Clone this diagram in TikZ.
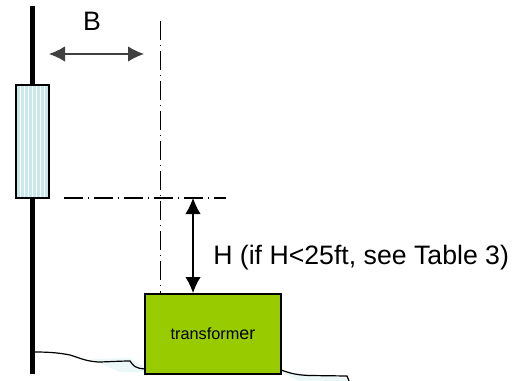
\documentclass[tikz,border=0pt]{standalone}
\usepackage{fontspec}
\setmainfont{Liberation Sans}
\usetikzlibrary{arrows.meta,patterns}
\definecolor{leaf}{HTML}{99CC00}
\definecolor{pale}{HTML}{C8E8EC}
\tikzset{
  x=0.75pt,y=-0.75pt,
  pole/.style={line width=4.3pt,black},
  dimline/.style={line width=0.8pt,{Latex[length=12pt,width=11.5pt]}-{Latex[length=12pt,width=11.5pt]}},
  guide/.style={line width=1.2pt,dash pattern=on 14.5pt off 3.5pt on 0.8pt off 3.7pt},
  ground/.style={line width=0.9pt},
  lab/.style={inner sep=0pt,font=\fontsize{20pt}{22pt}\selectfont},
  unitbox/.style={draw,line width=1.5pt,fill=leaf,font=\fontsize{12.2pt}{14pt}\selectfont,inner sep=0pt},
  meterbox/.style={draw,line width=1.3pt,preaction={fill=pale},pattern=vertical lines,pattern color=white,inner sep=0pt}
}
\begin{document}
\begin{tikzpicture}
\useasboundingbox (0,0) rectangle (520,381);
\fill[white] (0,0) rectangle (520,381);
% ground hatch
\fill[pale!35] (90,359) -- (130,358) -- (145,368) -- (145,372) -- (120,372) -- cycle;
\fill[pale!35] (281,372) -- (345,378) -- (349,381) -- (300,381) -- cycle;
% pole
\coordinate (poleT) at (32.5,6);
\coordinate (poleB) at (32.5,374);
\draw[pole] (poleT) -- (poleB);
% ground
\coordinate (g0) at (35,352);
\coordinate (g1) at (145,369);
\coordinate (g2) at (281,370);
\coordinate (g3) at (349,381);
\draw[ground] (g0) .. controls (50,352) and (60,353) .. (70,355) .. controls (80,358) and (85,361) .. (98,362) .. controls (105,362) and (120,361) .. (130,361) .. controls (134,366) and (134,368) .. (g1);
\draw[ground] (g2) .. controls (290,373) and (295,375) .. (310,375.5) -- (347,376) -- (g3);
% meter box
\node[meterbox,minimum width=24.6pt,minimum height=84.5pt] (meter) at (32.5,141.5) {};
% guides
\coordinate (vT) at (160.5,21);
\coordinate (vB) at (160.5,293);
\coordinate (hL) at (64,198);
\coordinate (hR) at (226,198);
\draw[guide] (vT) -- (vB);
\draw[guide,line width=1.4pt] (hL) -- (hR);
% transformer
\node[unitbox,minimum width=102pt,minimum height=60pt] (tr) at (213,334) {transform{\fontsize{13.4pt}{14pt}\selectfont er}};
% dimensions
\coordinate (bL) at (49,54);
\coordinate (bR) at (144,54);
\draw[dimline,black!75] (bL) -- (bR);
\coordinate (hT) at (193,198);
\draw[dimline] (hT) -- (tr.north -| hT);
% labels
\node[lab] (bl) at (92,21) {B};
\node[lab,anchor=west] (hl) at (213,258) {H (if H<25ft, see Table 3)};
\end{tikzpicture}
\end{document}
